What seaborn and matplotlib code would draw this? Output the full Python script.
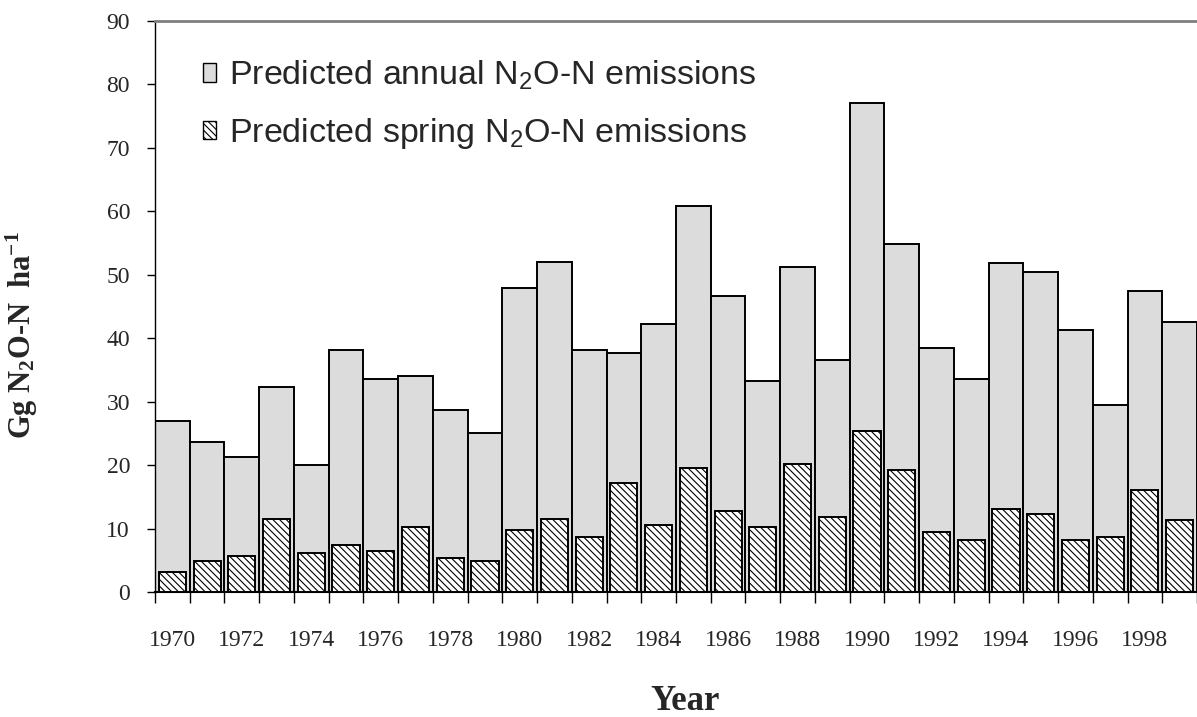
import numpy as np
import pandas as pd
import matplotlib
matplotlib.use('Agg')
import matplotlib.pyplot as plt
import seaborn as sns
from matplotlib.patches import Patch

# Values
years = list(range(1970, 2000))
annual = [27.0, 23.7, 21.2, 32.3, 20.0, 38.1, 33.5, 34.0, 28.7, 25.0,
          47.9, 52.0, 38.1, 37.6, 42.2, 60.9, 46.7, 33.2, 51.2, 36.5,
          77.0, 54.8, 38.5, 33.5, 51.9, 50.4, 41.3, 29.4, 47.5, 42.5]
spring = [3.2, 4.9, 5.7, 11.5, 6.1, 7.4, 6.5, 10.2, 5.3, 4.9,
          9.8, 11.5, 8.6, 17.2, 10.6, 19.6, 12.7, 10.3, 20.1, 11.9,
          25.4, 19.3, 9.4, 8.2, 13.1, 12.3, 8.2, 8.6, 16.0, 11.4]

df = pd.DataFrame({'Year': years, 'Annual': annual, 'Spring': spring})

sns.set_style('white')
plt.rcParams['font.family'] = ['Liberation Serif', 'DejaVu Serif']
plt.rcParams['hatch.linewidth'] = 0.8

fig = plt.figure(figsize=(11.97, 7.17), dpi=100)
ax = fig.add_axes([155 / 1197, 125 / 717, 1 - 155 / 1197, 571 / 717])

# Annual bars (full width, grey)
sns.barplot(data=df, x='Year', y='Annual', color='#dcdcdc', saturation=1,
            width=1.0, edgecolor='black', linewidth=1.4, ax=ax, zorder=2)
n_annual = len(ax.patches)
# Spring bars (narrower, hatched)
sns.barplot(data=df, x='Year', y='Spring', color='white', saturation=1,
            width=0.78, edgecolor='black', linewidth=1.4, ax=ax, zorder=3)
for p in ax.patches[n_annual:]:
    p.set_hatch('\\\\\\\\\\')

ax.set_xlim(-0.5, 29.5)
ax.set_ylim(0, 90)
ax.set_yticks(range(0, 91, 10))

# Year labels on bars, tick marks between bars
ax.set_xticks(range(0, 30, 2), [str(y) for y in years[::2]])
ax.set_xticks(np.arange(-0.5, 30, 1), minor=True)
ax.tick_params(axis='x', which='major', length=0, pad=27, labelsize=17)
ax.tick_params(axis='x', which='minor', length=8, width=1, color='black', direction='out')
ax.tick_params(axis='y', length=6, width=1, color='black', direction='out', labelsize=17, pad=12)
ax.tick_params(bottom=True, left=True, which='both')

for s in ['left', 'bottom']:
    ax.spines[s].set_color('black')
ax.spines['left'].set_linewidth(1.0)
ax.spines['bottom'].set_linewidth(1.5)
ax.spines['top'].set_color('#808080')
ax.spines['top'].set_linewidth(2)
ax.spines['right'].set_visible(False)

ax.set_ylabel(r'Gg N$\mathregular{_2}$O-N  ha$\mathregular{^{-1}}$', fontsize=22, fontweight='bold')
ax.yaxis.set_label_coords(-0.11, 0.45)
ax.set_xlabel('Year', fontsize=25, fontweight='bold')
ax.xaxis.set_label_coords(0.509, -0.163)

handles = [Patch(facecolor='#dcdcdc', edgecolor='black', linewidth=1.0),
           Patch(facecolor='white', edgecolor='black', linewidth=1.0, hatch='\\\\\\\\\\')]
labels = [r'Predicted annual N$\mathregular{_2}$O-N emissions',
          r'Predicted spring N$\mathregular{_2}$O-N emissions']
leg = ax.legend(handles, labels, loc='upper left', bbox_to_anchor=(0.046, 0.934),
                frameon=False, prop={'family': 'Liberation Sans', 'size': 24.5},
                borderpad=0, borderaxespad=0,
                handlelength=0.38, handleheight=0.45, handletextpad=0.38, labelspacing=0.7)

fig.savefig('out.png', dpi=100)
